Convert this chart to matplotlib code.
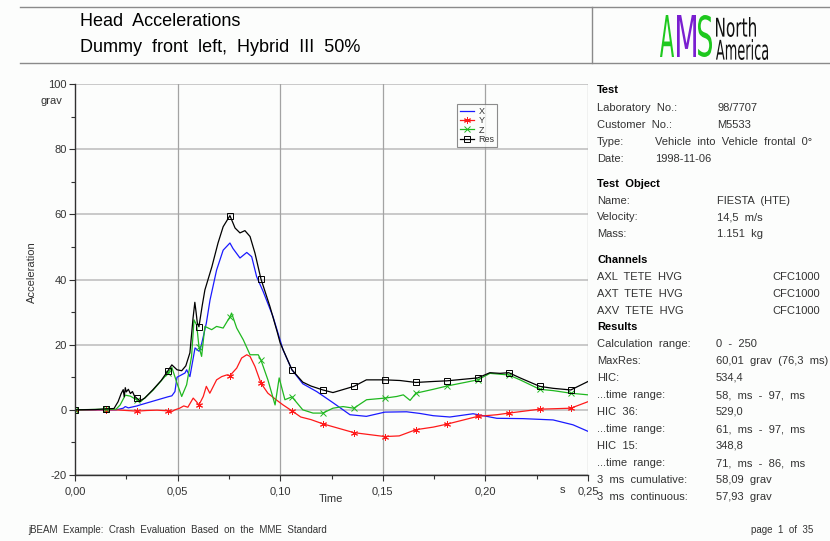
import numpy as np
import matplotlib
matplotlib.use('Agg')
import matplotlib.pyplot as plt
from matplotlib.lines import Line2D
from matplotlib.patches import PathPatch
from matplotlib.textpath import TextPath
from matplotlib.font_manager import FontProperties
import matplotlib.transforms as mtransforms
from matplotlib.ticker import MultipleLocator, FuncFormatter

W, H = 830, 541
BG = '#fcfdfc'
FONT = 'Liberation Sans'

# ── data (time in s, acceleration in grav) ───────────────────────────────────
res_t = [0, 0.010, 0.0151, 0.019, 0.021, 0.0225, 0.0235, 0.024, 0.0245, 0.025,
         0.026, 0.027, 0.028, 0.029, 0.0302, 0.0317, 0.034, 0.038, 0.042, 0.0453,
         0.0472, 0.0497, 0.052, 0.054, 0.056, 0.0575, 0.0584, 0.059, 0.0596, 0.0604,
         0.062, 0.0633, 0.0667, 0.0697, 0.0722, 0.0755, 0.078, 0.0804, 0.0828, 0.0853,
         0.0877, 0.0906, 0.095, 0.0985, 0.1000, 0.1057, 0.111, 0.1150, 0.1208, 0.1257,
         0.1359, 0.142, 0.151, 0.1584, 0.1661, 0.1745, 0.1812, 0.1963, 0.2022, 0.2071,
         0.2114, 0.2169, 0.2265, 0.233, 0.2416, 0.25]
res_v = [0, 0.1, 0.3, 0.4, 2.5, 5.0, 6.2, 4.0, 6.8, 5.5,
         6.3, 5.0, 5.6, 4.2, 3.5, 2.8, 3.6, 6.2, 9.0, 12.0,
         13.8, 12.3, 12.0, 13.5, 17.5, 28.0, 33.0, 30.0, 26.7, 25.5,
         32.0, 36.8, 43.9, 51.2, 56.2, 59.6, 55.8, 54.3, 55.0, 53.2,
         48.1, 40.2, 31.7, 24.0, 20.5, 12.3, 8.5, 7.3, 6.1, 5.3,
         7.2, 9.2, 9.2, 9.0, 8.4, 8.7, 8.9, 9.8, 11.4, 11.2,
         11.4, 9.8, 7.2, 6.6, 6.1, 8.7]

x_t = [0, 0.020, 0.0235, 0.0245, 0.026, 0.0302, 0.0317, 0.0404, 0.0453, 0.0472,
       0.0487, 0.0497, 0.0536, 0.0544, 0.056, 0.0585, 0.0604, 0.061, 0.0625, 0.064,
       0.0658, 0.069, 0.0722, 0.0755, 0.077, 0.0804, 0.0837, 0.0861, 0.0885, 0.0917,
       0.0965, 0.1014, 0.1057, 0.111, 0.1178, 0.1257, 0.134, 0.142, 0.151, 0.1616,
       0.168, 0.1746, 0.1827, 0.194, 0.1989, 0.2056, 0.2183, 0.233, 0.2427, 0.25]
x_v = [0, 0, 0.5, 1.0, 0.6, 1.2, 1.5, 3.1, 4.0, 4.3,
       5.6, 10.0, 11.3, 12.3, 10.2, 19.0, 18.0, 18.4, 22.4, 26.6,
       33.7, 42.9, 49.0, 51.2, 49.5, 46.6, 48.3, 47.0, 40.9, 36.3,
       28.6, 18.4, 12.3, 8.0, 5.6, 2.2, -1.5, -2.0, -0.7, -0.6,
       -1.1, -1.8, -2.2, -1.2, -1.8, -2.6, -2.7, -3.1, -4.6, -6.6]

y_t = [0, 0.0151, 0.020, 0.025, 0.0302, 0.035, 0.040, 0.0453, 0.047, 0.0487,
       0.051, 0.053, 0.055, 0.0576, 0.0592, 0.0604, 0.0625, 0.064, 0.0657, 0.069,
       0.0715, 0.0739, 0.0755, 0.0788, 0.0812, 0.0837, 0.0853, 0.0877, 0.0906, 0.094,
       0.098, 0.1014, 0.1057, 0.110, 0.115, 0.1208, 0.1359, 0.151, 0.158, 0.1661,
       0.1746, 0.1812, 0.1963, 0.2056, 0.2114, 0.2265, 0.2416, 0.25]
y_v = [0, 0, 0, -0.2, -0.4, -0.2, -0.1, -0.3, -0.6, 0,
       0.5, 1.2, 0.8, 3.6, 2.5, 1.5, 4.1, 7.2, 5.1, 9.2,
       10.2, 10.7, 10.5, 12.8, 15.9, 16.9, 16.4, 13.3, 8.2, 5.1,
       3.1, 1.5, -0.3, -2.2, -3.0, -4.3, -7.0, -8.2, -8.0, -6.1,
       -5.3, -4.4, -2.0, -1.5, -1.0, 0.2, 0.5, 2.5]

z_t = [0, 0.0151, 0.020, 0.022, 0.0245, 0.027, 0.0302, 0.032, 0.038, 0.0453,
       0.0472, 0.0497, 0.052, 0.0544, 0.0568, 0.058, 0.0593, 0.0604, 0.0617, 0.0633,
       0.0666, 0.069, 0.0722, 0.0746, 0.0755, 0.0763, 0.0788, 0.082, 0.0853, 0.0893,
       0.0906, 0.094, 0.0975, 0.0995, 0.1023, 0.1057, 0.111, 0.116, 0.1208, 0.1257,
       0.1306, 0.1359, 0.1421, 0.151, 0.1568, 0.160, 0.1633, 0.1661, 0.1746, 0.1812,
       0.1963, 0.2022, 0.2114, 0.2169, 0.2265, 0.233, 0.2416, 0.25]
z_v = [0, 0.2, 0.2, 1.5, 4.5, 4.2, 3.0, 2.5, 6.0, 11.3,
       13.0, 8.2, 4.1, 7.7, 16.4, 27.6, 26.0, 19.4, 16.4, 25.6,
       24.6, 25.6, 25.1, 27.6, 28.5, 29.7, 25.1, 21.5, 16.9, 16.9,
       15.3, 9.2, 1.5, 9.8, 3.1, 4.0, 0.0, -1.0, -1.0, 0.5,
       1.0, 0.5, 3.1, 3.6, 4.1, 4.6, 2.9, 5.1, 6.3, 7.3,
       9.2, 11.2, 10.7, 9.2, 6.3, 5.9, 5.1, 4.6]

# marker positions
mark_t = [0, 0.0151, 0.0302, 0.0453, 0.0604, 0.0755, 0.0906, 0.1057, 0.1208,
          0.1359, 0.151, 0.1661, 0.1812, 0.1963, 0.2114, 0.2265, 0.2416]

header_lines = ['Head  Accelerations', 'Dummy  front  left,  Hybrid  III  50%']

info_rows = [
    ('Test', None, None, 'head'),
    ('Laboratory  No.:', '98/7707', 717, 'l'),
    ('Customer  No.:', 'M5533', 717, 'l'),
    ('Type:', 'Vehicle  into  Vehicle  frontal  0°', 655, 'l'),
    ('Date:', '1998-11-06', 655, 'l'),
    ('Test  Object', None, None, 'head'),
    ('Name:', 'FIESTA  (HTE)', 717, 'l'),
    ('Velocity:', '14,5  m/s', 717, 'l'),
    ('Mass:', '1.151  kg', 717, 'l'),
    ('Channels', None, None, 'head'),
    ('AXL  TETE  HVG', 'CFC1000', 820, 'r'),
    ('AXT  TETE  HVG', 'CFC1000', 820, 'r'),
    ('AXV  TETE  HVG', 'CFC1000', 820, 'r'),
    ('Results', None, None, 'head'),
    ('Calculation  range:', '0  -  250', 716, 'l'),
    ('MaxRes:', '60,01  grav  (76,3  ms)', 716, 'l'),
    ('HIC:', '534,4', 716, 'l'),
    ('...time  range:', '58,  ms  -  97,  ms', 716, 'l'),
    ('HIC  36:', '529,0', 716, 'l'),
    ('...time  range:', '61,  ms  -  97,  ms', 716, 'l'),
    ('HIC  15:', '348,8', 716, 'l'),
    ('...time  range:', '71,  ms  -  86,  ms', 716, 'l'),
    ('3  ms  cumulative:', '58,09  grav', 716, 'l'),
    ('3  ms  continuous:', '57,93  grav', 716, 'l'),
]
info_y = [89, 107, 124, 141, 158, 183, 200, 216, 233, 259, 276, 293, 310,
          326, 343, 360, 377, 394, 411, 428, 445, 462, 479, 496]


def fx(x):
    return x / W


def fy(y):
    return 1 - y / H


def fit_text(fig, s, box, color, weight='bold'):
    # draw a glyph string stretched into a pixel box (x0, y0, x1, y1)
    tp = TextPath((0, 0), s, size=1, prop=FontProperties(family='DejaVu Sans', weight=weight))
    ext = tp.get_extents()
    x0, y0, x1, y1 = box
    sx = (x1 - x0) / ext.width
    sy = (y1 - y0) / ext.height
    tr = (mtransforms.Affine2D().translate(-ext.x0, -ext.y0).scale(sx, sy)
          .translate(x0, H - y1).scale(1 / W, 1 / H) + fig.transFigure)
    fig.add_artist(PathPatch(tp, transform=tr, facecolor=color, edgecolor='none'))


plt.rcParams['font.family'] = [FONT, 'DejaVu Sans']
fig = plt.figure(figsize=(W / 100, H / 100), dpi=100, facecolor=BG)

# ── header ───────────────────────────────────────────────────────────────────
for yy in (7, 63):
    fig.add_artist(Line2D([fx(20), 1], [fy(yy), fy(yy)], transform=fig.transFigure,
                          color='#8a8a8a', lw=1))
fig.add_artist(Line2D([fx(592), fx(592)], [fy(7), fy(63)], transform=fig.transFigure,
                      color='#8a8a8a', lw=1))
fig.text(fx(80), fy(26), header_lines[0], fontsize=13, va='baseline', ha='left')
fig.text(fx(80), fy(52), header_lines[1], fontsize=13, va='baseline', ha='left')

fit_text(fig, 'A', (660, 15, 674, 57), '#1ec81e', weight='normal')
fit_text(fig, 'M', (677, 15, 696, 57), '#7a1fd0', weight='normal')
fit_text(fig, 'S', (698, 15, 712, 57), '#1ec81e', weight='normal')
fit_text(fig, 'North', (716, 17, 756, 37), '#111111', weight='normal')
fit_text(fig, 'America', (716, 39, 768, 60), '#111111', weight='normal')

# ── chart ────────────────────────────────────────────────────────────────────
ax = fig.add_axes([fx(75), fy(475), fx(588) - fx(75), fy(84) - fy(475)])
ax.set_facecolor(BG)
ax.set_xlim(0, 0.25)
ax.set_ylim(-20, 100)

for v in np.arange(-20, 101, 20):
    ax.axhline(v, color='#c9c9c9', lw=1.4, zorder=0)
for v in np.arange(0.05, 0.2501, 0.05):
    ax.axvline(v, color='#a3a3a3', lw=0.9, zorder=0)

def marks(t):
    t = np.round(np.asarray(t), 4)
    return [i for i, v in enumerate(t) if v in np.round(mark_t, 4)]

ax.plot(x_t, x_v, color='#1a1aff', lw=0.9, label='X')
ax.plot(y_t, y_v, color='#ff1a1a', lw=0.9, marker=(6, 2, 0), ms=5, mew=0.7,
        markevery=marks(y_t), label='Y')
ax.plot(z_t, z_v, color='#1fb81f', lw=0.9, marker='x', ms=4.5, mew=0.7,
        markevery=marks(z_t), label='Z')
ax.plot(res_t, res_v, color='black', lw=0.9, marker='s', ms=5, mew=0.7, mfc='none',
        markevery=marks(res_t), label='Res')

for s in ('top', 'right'):
    ax.spines[s].set_visible(False)
for s in ('left', 'bottom'):
    ax.spines[s].set_color('#303030')
    ax.spines[s].set_linewidth(1.0)

ax.xaxis.set_major_locator(MultipleLocator(0.05))
ax.xaxis.set_minor_locator(MultipleLocator(0.025))
ax.yaxis.set_major_locator(MultipleLocator(20))
ax.yaxis.set_minor_locator(MultipleLocator(10))
ax.xaxis.set_major_formatter(FuncFormatter(lambda v, p: f'{v:.2f}'.replace('.', ',')))
ax.yaxis.set_major_formatter(FuncFormatter(lambda v, p: f'{v:.0f}'))
ax.tick_params(which='major', length=4, width=0.8, color='#303030',
               labelsize=8, labelcolor='#333333', pad=2)
ax.tick_params(which='minor', length=3, width=0.8, color='#303030')
ax.tick_params(axis='x', pad=4)
lbls = ax.get_xticklabels()
lbls[-1].set_horizontalalignment('right')

fig.text(fx(62), fy(101), 'grav', fontsize=8, color='#333333', ha='right', va='center')
fig.text(fx(562), fy(490), 's', fontsize=8, color='#333333', ha='center', va='center')
fig.text(fx(331), fy(499), 'Time', fontsize=8, color='#333333', ha='center', va='center')
fig.text(fx(32), fy(272), 'Acceleration', fontsize=8, color='#333333', ha='center',
         va='center', rotation=90)

leg = ax.legend(loc='upper left', bbox_to_anchor=(fx(457), fy(104)),
                bbox_transform=fig.transFigure, fontsize=6.5, frameon=True,
                fancybox=False, handlelength=1.6, handletextpad=0.5,
                borderpad=0.3, labelspacing=0.05, borderaxespad=0)
leg.get_frame().set_edgecolor('#707070')
leg.get_frame().set_linewidth(0.8)
leg.get_frame().set_facecolor(BG)
for txt in leg.get_texts():
    txt.set_color('#333333')

# ── info panel ───────────────────────────────────────────────────────────────
for (label, value, vx, kind), yy in zip(info_rows, info_y):
    base = fy(yy + 4)
    if kind == 'head':
        fig.text(fx(597), base, label, fontsize=8, fontweight='bold', va='baseline')
        continue
    fig.text(fx(597), base, label, fontsize=8, color='#333333', va='baseline')
    fig.text(fx(vx), base, value, fontsize=8, color='#333333', va='baseline',
             ha='right' if kind == 'r' else 'left')

fig.text(fx(28), fy(533), 'jBEAM  Example:  Crash  Evaluation  Based  on  the  MME  Standard',
         fontsize=7, color='#333333', va='baseline')
fig.text(fx(813), fy(533), 'page  1  of  35', fontsize=7, color='#333333', va='baseline',
         ha='right')

fig.savefig('out.png', dpi=100, facecolor=BG)
